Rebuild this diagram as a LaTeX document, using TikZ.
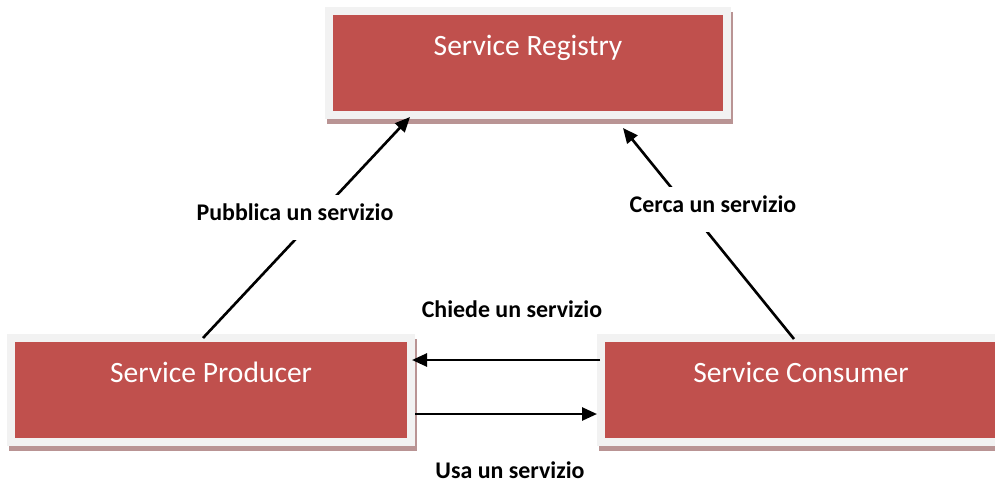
\documentclass[tikz,border=0pt]{standalone}
\usepackage{fontspec}
\setmainfont{Carlito}
\usepackage{xcolor}
\usetikzlibrary{arrows.meta,shadows}
\definecolor{srvred}{RGB}{192,80,77}
\definecolor{srvframe}{RGB}{242,242,242}
\definecolor{srvshadow}{RGB}{185,148,148}
\tikzset{
    service/.style={rectangle, fill=srvframe, minimum width=8.16cm, minimum height=2.24cm,
        inner sep=0pt, outer sep=0pt, text=white, font=\fontsize{16.8}{20}\selectfont,
        text height=0.4cm, text depth=0.72cm,
        drop shadow={shadow xshift=0.04cm, shadow yshift=-0.1cm, fill=srvshadow, opacity=1},
        path picture={\fill[srvred] ([shift={(0.16cm,0.16cm)}]path picture bounding box.south west)
            rectangle ([shift={(-0.16cm,-0.16cm)}]path picture bounding box.north east);}},
    link/.style={-{Triangle[length=0.3cm, width=0.26cm]}, line width=1.5pt, black},
    tag/.style={font=\fontsize{13.6}{16}\selectfont\bfseries, anchor=base, inner sep=0pt},
    gaptag/.style={tag, fill=white, inner xsep=2pt, text height=0.5cm, text depth=0.4cm}
}
\begin{document}
\begin{tikzpicture}
\clip (0,0) rectangle (19.9,9.66);

% Services
\node[service, minimum width=8.12cm] (registry) at (10.56,8.40) {Service Registry};
\node[service] (producer) at (4.22,1.86) {Service Producer};
\node[service] (consumer) at (16.02,1.86) {Service Consumer};

% Publish and lookup
\draw[link] ([xshift=-0.16cm, yshift=-0.08cm]producer.north) -- ([xshift=-2.36cm, yshift=0.04cm]registry.south);
\draw[link] ([xshift=-0.14cm, yshift=-0.1cm]consumer.north) -- ([xshift=1.90cm, yshift=-0.18cm]registry.south);
\node[gaptag] (pubblica) at (5.90,5.26) {Pubblica un servizio};
\node[gaptag] (cerca) at (14.26,5.42) {Cerca un servizio};

% Request and use
\draw[link] ([xshift=0.06cm, yshift=0.60cm]consumer.west) -- ([xshift=-0.06cm, yshift=0.60cm]producer.east);
\draw[link] ([yshift=-0.48cm]producer.east) -- ([yshift=-0.48cm]consumer.west);
\node[tag] (chiede) at (10.24,3.32) {Chiede un servizio};
\node[tag] (usa) at (10.20,0.10) {Usa un servizio};
\end{tikzpicture}
\end{document}
